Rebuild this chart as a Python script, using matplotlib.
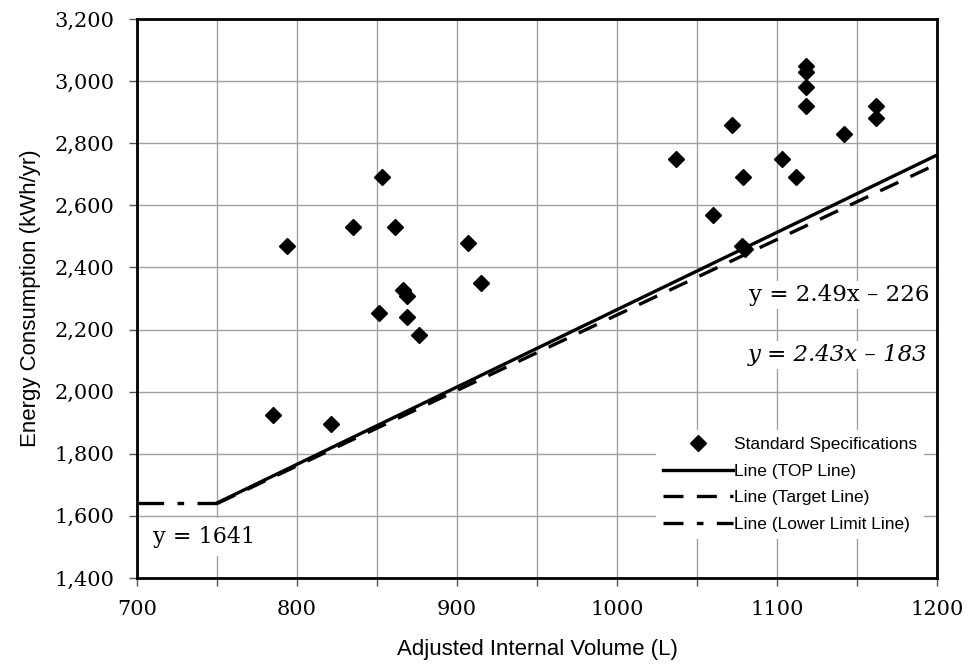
import numpy as np
import matplotlib.pyplot as plt
from matplotlib.ticker import MultipleLocator, FuncFormatter

# Standard specifications (adjusted internal volume L, energy kWh/yr)
spec_volume = [785, 794, 821, 835, 851, 853, 861, 866, 869, 869, 876, 907, 915,
               1037, 1060, 1072, 1079, 1078, 1080, 1103, 1112,
               1118, 1118, 1118, 1118, 1142, 1162, 1162]
spec_energy = [1925, 2470, 1895, 2530, 2253, 2690, 2530, 2327, 2308, 2240, 2182, 2480, 2350,
               2750, 2570, 2860, 2690, 2470, 2460, 2750, 2690,
               3050, 3030, 2980, 2920, 2830, 2920, 2880]

# line definitions
top_slope, top_icpt = 2.49, -226
target_slope, target_icpt = 2.43, -183
lower_limit = 1641
break_volume = 750
x_min, x_max = 700, 1200

plt.rcParams['font.family'] = ['Liberation Sans', 'DejaVu Sans']
serif = 'DejaVu Serif'

fig = plt.figure(figsize=(9.7, 6.71), dpi=100)
ax = fig.add_axes([0.1412, 0.1386, 0.8248, 0.8331])

xs = np.array([break_volume, x_max])
ax.plot([x_min, break_volume], [lower_limit, lower_limit], color='black', lw=2.4,
        dashes=(8, 4, 2, 4), zorder=3)
ax.plot(xs, top_slope * xs + top_icpt, color='black', lw=2.4, zorder=3,
        label='Line (TOP Line)')
ax.plot(xs, target_slope * xs + target_icpt, color='black', lw=2.4, dashes=(6, 4),
        zorder=3, label='Line (Target Line)')
ax.plot([], [], color='black', lw=2.4, dashes=(6, 4, 2, 4), label='Line (Lower Limit Line)')
ax.plot(spec_volume, spec_energy, 'D', color='black', ms=8, zorder=4,
        label='Standard Specifications')

ax.set_xlim(x_min, x_max)
ax.set_ylim(1400, 3200)
ax.xaxis.set_major_locator(MultipleLocator(50))
ax.yaxis.set_major_locator(MultipleLocator(200))
ax.xaxis.set_major_formatter(FuncFormatter(lambda v, p: f'{v:.0f}' if v % 100 == 0 else ''))
ax.yaxis.set_major_formatter(FuncFormatter(lambda v, p: f'{v:,.0f}'))
ax.grid(True, color='#a0a0a0', lw=1.0, zorder=0)
ax.tick_params(direction='out', length=6, width=1, color='#555555',
               labelsize=15, pad=10)
for lab in ax.get_xticklabels() + ax.get_yticklabels():
    lab.set_fontfamily(serif)
for s in ax.spines.values():
    s.set_linewidth(2)
    s.set_zorder(5)

ax.set_xlabel('Adjusted Internal Volume (L)', fontsize=16, labelpad=14)
ax.set_ylabel('Energy Consumption (kWh/yr)', fontsize=16, labelpad=10)

box = dict(facecolor='white', edgecolor='none', pad=2)
ax.text(1139, 2311, 'y = 2.49x \u2013 226', fontsize=16.5, family=serif,
        ha='center', va='center', bbox=box, zorder=2)
ax.text(1138, 2118, 'y = 2.43x \u2013 183', fontsize=16.5, family=serif, style='italic',
        ha='center', va='center', bbox=box, zorder=2)
ax.text(742, 1532, 'y = 1641', fontsize=16, family=serif,
        ha='center', va='center', bbox=dict(facecolor='white', edgecolor='none', pad=6),
        zorder=2)

handles, labels = ax.get_legend_handles_labels()
order = [3, 0, 1, 2]
leg = ax.legend([handles[i] for i in order], [labels[i] for i in order],
                loc='lower right', bbox_to_anchor=(0.995, 0.055), frameon=True,
                fontsize=12.5, handlelength=4.0, handletextpad=0.1,
                labelspacing=0.65, borderpad=0.4)
leg.get_frame().set_edgecolor('none')
leg.get_frame().set_facecolor('white')
leg.get_frame().set_alpha(1)

fig.savefig('out.png', dpi=100)
